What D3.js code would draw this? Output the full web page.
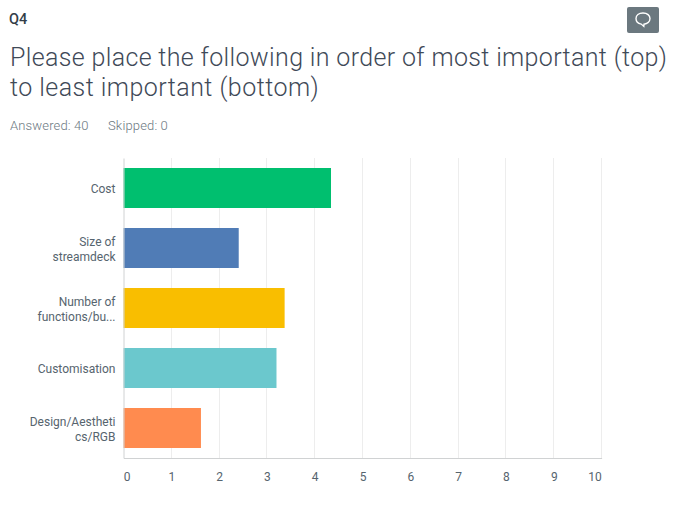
<!DOCTYPE html>
<html>
<head>
<meta charset="utf-8">
<script src="https://d3js.org/d3.v7.min.js"></script>
<style>
  html, body { margin: 0; padding: 0; background: #fff; }
  svg { display: block; }
  text { font-family: "Roboto", sans-serif; }
</style>
</head>
<body>
<svg id="chart" width="674" height="510"></svg>
<script>
const categories = ["Cost", "Size of streamdeck", "Number of functions/bu...", "Customisation", "Design/Aesthetics/RGB"];
const categoryLines = [["Cost"], ["Size of", "streamdeck"], ["Number of", "functions/bu..."], ["Customisation"], ["Design/Aestheti", "cs/RGB"]];
const scores = [4.34, 2.41, 3.37, 3.2, 1.62];
const barColors = ["#00bf6f", "#507cb6", "#f9be00", "#6bc8cd", "#ff8b4f"];
const xTicks = [0, 1, 2, 3, 4, 5, 6, 7, 8, 9, 10];
const titleLines = ["Please place the following in order of most important (top)", "to least important (bottom)"];

const svg = d3.select("#chart");

svg.append("text").attr("x", 9).attr("y", 24)
    .attr("font-size", 14.5).attr("font-weight", 500).attr("fill", "#333e48").text("Q4");

svg.selectAll(".title").data(titleLines).join("text")
    .attr("class", "title")
    .attr("x", 10)
    .attr("y", (d, i) => 66 + i * 30)
    .attr("font-size", 25).attr("font-weight", 300)
    .attr("letter-spacing", (d, i) => i === 0 ? 0.35 : 0.46)
    .attr("fill", "#3f4a58")
    .text(d => d);

svg.append("text").attr("x", 10).attr("y", 130)
    .attr("font-size", 13).attr("font-weight", 300).attr("letter-spacing", 0.15).attr("fill", "#6b787f").text("Answered: 40");
svg.append("text").attr("x", 108).attr("y", 130)
    .attr("font-size", 13).attr("font-weight", 300).attr("letter-spacing", 0.15).attr("fill", "#6b787f").text("Skipped: 0");

// comment button
svg.append("rect").attr("x", 627).attr("y", 7).attr("width", 32).attr("height", 26)
    .attr("rx", 2).attr("fill", "#6b787f");
svg.append("path")
    .attr("d", "M643 13c-4.2 0-7 2.4-7 5.6 0 2.9 2.2 5 5.2 5.5l2.6 2.3.2-2.2c3.3-.4 6-2.6 6-5.6 0-3.2-2.8-5.6-7-5.6z")
    .attr("fill", "none").attr("stroke", "#fff").attr("stroke-width", 1.4);

const x = d3.scaleLinear().domain([0, 10]).range([123.5, 601.6]);
const y = d3.scaleBand().domain(categories).range([158, 458]).paddingInner(1 / 3).paddingOuter(1 / 6);

// grid
svg.append("g").selectAll("line").data(xTicks.slice(1)).join("line")
    .attr("x1", d => Math.floor(x(d) - 0.1) + 0.5).attr("x2", d => Math.floor(x(d) - 0.1) + 0.5)
    .attr("y1", 158).attr("y2", 458)
    .attr("stroke", "#ededed");

svg.append("g").selectAll("rect").data(categories).join("rect")
    .attr("x", x(0))
    .attr("y", d => y(d))
    .attr("width", (d, i) => x(scores[i]) - x(0))
    .attr("height", y.bandwidth())
    .attr("fill", (d, i) => barColors[i]);

// x axis
const xAxis = svg.append("g").attr("transform", "translate(0,458)")
    .call(d3.axisBottom(x).tickValues(xTicks).tickSize(0).tickPadding(14));
xAxis.select(".domain").attr("stroke", "#d0d2d3");
xAxis.selectAll("text")
    .attr("font-family", "Roboto").attr("font-size", 12).attr("fill", "#56646e")
    .attr("dx", d => d === 0 ? 3 : d === 10 ? -7 : 0);

// y axis
const yAxis = svg.append("g").attr("transform", "translate(123.5,0)")
    .call(d3.axisLeft(y).tickSize(0).tickPadding(8).tickFormat(""));
yAxis.select(".domain").attr("stroke", "#d0d2d3");
yAxis.selectAll("text").each(function (d, i) {
    const lines = categoryLines[i];
    d3.select(this).attr("font-family", "Roboto").attr("font-size", 12).attr("fill", "#56646e")
        .selectAll("tspan").data(lines).join("tspan")
        .attr("x", -8)
        .attr("y", (l, j) => (j - (lines.length - 1) / 2) * 15 + 5)
        .attr("dy", 0)
        .text(l => l);
    d3.select(this).attr("dy", null);
});
</script>
</body>
</html>
